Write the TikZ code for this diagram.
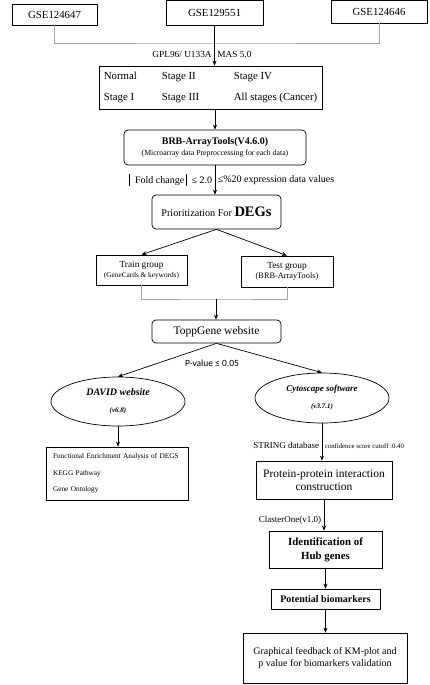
\documentclass[tikz,border=0pt]{standalone}
\usepackage{fontspec}
\setmainfont{Liberation Serif}
\newfontfamily\sansfuente{Carlito}
\usetikzlibrary{arrows.meta,shapes.geometric}

\newcommand{\barra}{\rule[-2pt]{0.7pt}{12pt}}

\tikzset{
  caja/.style={draw, line width=0.7pt, inner sep=2pt, align=center},
  cajar/.style={caja, rounded corners=4pt},
  elipse/.style={draw, ellipse, line width=0.7pt, inner sep=0pt, align=center},
  flecha/.style={-{Stealth[length=5pt,width=4pt]}, line width=0.7pt},
  gris/.style={draw=gray!70, line width=0.7pt},
  etiq/.style={inner sep=2.5pt, font=\fontsize{9.3}{11}\selectfont},
}

\begin{document}
\begin{tikzpicture}[x=1pt,y=-1pt]
\useasboundingbox (0,0) rectangle (429,685);

% Series GSE
\node[caja, minimum width=85pt, minimum height=21pt, font=\fontsize{10.8}{13}\selectfont] (gseA) at (54.5,14.5) {GSE124647};
\node[caja, minimum width=97pt, minimum height=25pt, font=\fontsize{10.8}{13}\selectfont] (gseB) at (214.5,12.5) {GSE129551};
\node[caja, minimum width=96pt, minimum height=23pt, font=\fontsize{10.8}{13}\selectfont] (gseC) at (379,11.5) {GSE124646};
\coordinate (union1) at (214.5,43);

% Etapas
\node[caja, minimum width=223pt, minimum height=43pt, font=\fontsize{10.8}{12}\selectfont] (etapas) at (210.5,87.5)
  {\begin{tabular}{@{}p{58pt}@{}p{72pt}@{}l@{}}Normal & Stage II & Stage IV\\[9pt]Stage I & Stage III & All stages (Cancer)\end{tabular}};

% Preprocesado
\node[cajar, minimum width=182pt, minimum height=35pt, font=\fontsize{10}{11}\selectfont] (brb) at (215,147.5)
  {\textbf{BRB-ArrayTools(V4.6.0)}\\{\fontsize{7.8}{9}\selectfont (Microarray data Preproccessing for each data)}};
\node[cajar, minimum width=129pt, minimum height=34pt, font=\fontsize{10.2}{12}\selectfont] (degs) at (216.5,212)
  {Prioritization For {\fontsize{14.5}{16}\selectfont\bfseries DEGs}};

% Grupos
\node[caja, minimum width=91pt, minimum height=30pt, font=\fontsize{9.3}{10}\selectfont] (train) at (141.5,270)
  {Train group\\{\fontsize{7.3}{8}\selectfont (GeneCards \& keywords)}};
\node[caja, minimum width=92pt, minimum height=31pt, font=\fontsize{9.3}{10.5}\selectfont] (test) at (287,271.5)
  {Test group\\{\fontsize{8.3}{9}\selectfont (BRB-ArrayTools)}};
\coordinate (union2) at (216,299);

\node[cajar, minimum width=129pt, minimum height=23pt, font=\fontsize{11.5}{13}\selectfont] (topp) at (216.5,331.5) {ToppGene website};
\node[font=\sansfuente\fontsize{9.5}{11}\selectfont] (pval) at (212,363) {P-value ≤ 0.05};

% Elipses
\node[elipse, minimum width=134pt, minimum height=49pt, font=\fontsize{10}{12}\selectfont\bfseries\itshape] (david) at (118,401.5)
  {DAVID website\\[5pt]{\fontsize{7}{8}\selectfont (v6.8)}};
\node[elipse, minimum width=134pt, minimum height=50pt, font=\fontsize{9}{12}\selectfont\bfseries\itshape] (cyto) at (322,398)
  {Cytoscape software\\[5pt]{\fontsize{7}{8}\selectfont (v3.7.1)}};

% Rama izquierda
\node[caja, minimum width=142pt, minimum height=53pt, inner xsep=7pt, text width=128pt, align=left, font=\fontsize{7.3}{8}\selectfont] (func) at (117,473.5)
  {Functional Enrichment Analysis of DEGS\\[8.5pt]KEGG Pathway\\[8.5pt]Gene Ontology};

% Rama derecha
\node[caja, minimum width=136pt, minimum height=38pt, font=\fontsize{11.5}{12.5}\selectfont] (ppi) at (324,480)
  {Protein-protein interaction\\construction};
\node[caja, minimum width=113pt, minimum height=37pt, font=\fontsize{10.9}{14}\selectfont\bfseries] (hub) at (325.5,549.5)
  {Identification of\\Hub genes};
\node[caja, minimum width=109pt, minimum height=20pt, font=\fontsize{10}{12}\selectfont\bfseries] (pot) at (325.5,599)
  {Potential biomarkers};
\node[caja, minimum width=164pt, minimum height=50pt, font=\fontsize{10}{12}\selectfont] (graf) at (325,658)
  {Graphical feedback of KM-plot and\\p value for biomarkers validation};

% Conectores
\draw[gris] (gseA.south) |- (union1) -| (gseC.south);
\draw[flecha] (gseB.south) -- (gseB.south |- etapas.north)
  node[pos=0.73, left, etiq] {GPL96/ U133A} node[pos=0.73, right, etiq] {MAS 5.0};
\draw[flecha] (brb.north |- etapas.south) -- (brb.north);
\draw[flecha] (brb.south) -- (brb.south |- degs.north)
  node[midway, left, etiq, font=\fontsize{10}{12}\selectfont] {\barra\ \ Fold change\,\barra\ \ ≤ 2.0}
  node[midway, right, etiq, font=\fontsize{10}{12}\selectfont] {≤\%20 expression data values};
\draw[flecha] (degs.south) -- (train.north);
\draw[flecha] (degs.south) -- (test.north);
\draw[gris] (train.south) |- (union2) -| (test.south);
\draw[flecha] (union2) -- (union2 |- topp.north);
\draw[flecha] (topp.south) -- (david.north);
\draw[flecha] (topp.south) -- (cyto.north);
\draw[flecha] (david.south) -- (david.south |- func.north);
\draw[flecha] (cyto.south) -- (cyto.south |- ppi.north)
  node[pos=0.6, left, etiq, font=\fontsize{9}{11}\selectfont] {STRING database}
  node[pos=0.6, right, etiq, font=\fontsize{6.8}{8}\selectfont] {confidence score cutoff :0.40};
\draw[flecha] (ppi.south) -- (ppi.south |- hub.north)
  node[pos=0.66, left, etiq, font=\fontsize{9}{11}\selectfont] {ClasterOne(v1.0)};
\draw[flecha] (hub.south) -- (hub.south |- pot.north);
\draw[flecha] (pot.south) -- (pot.south |- graf.north);
\end{tikzpicture}
\end{document}
